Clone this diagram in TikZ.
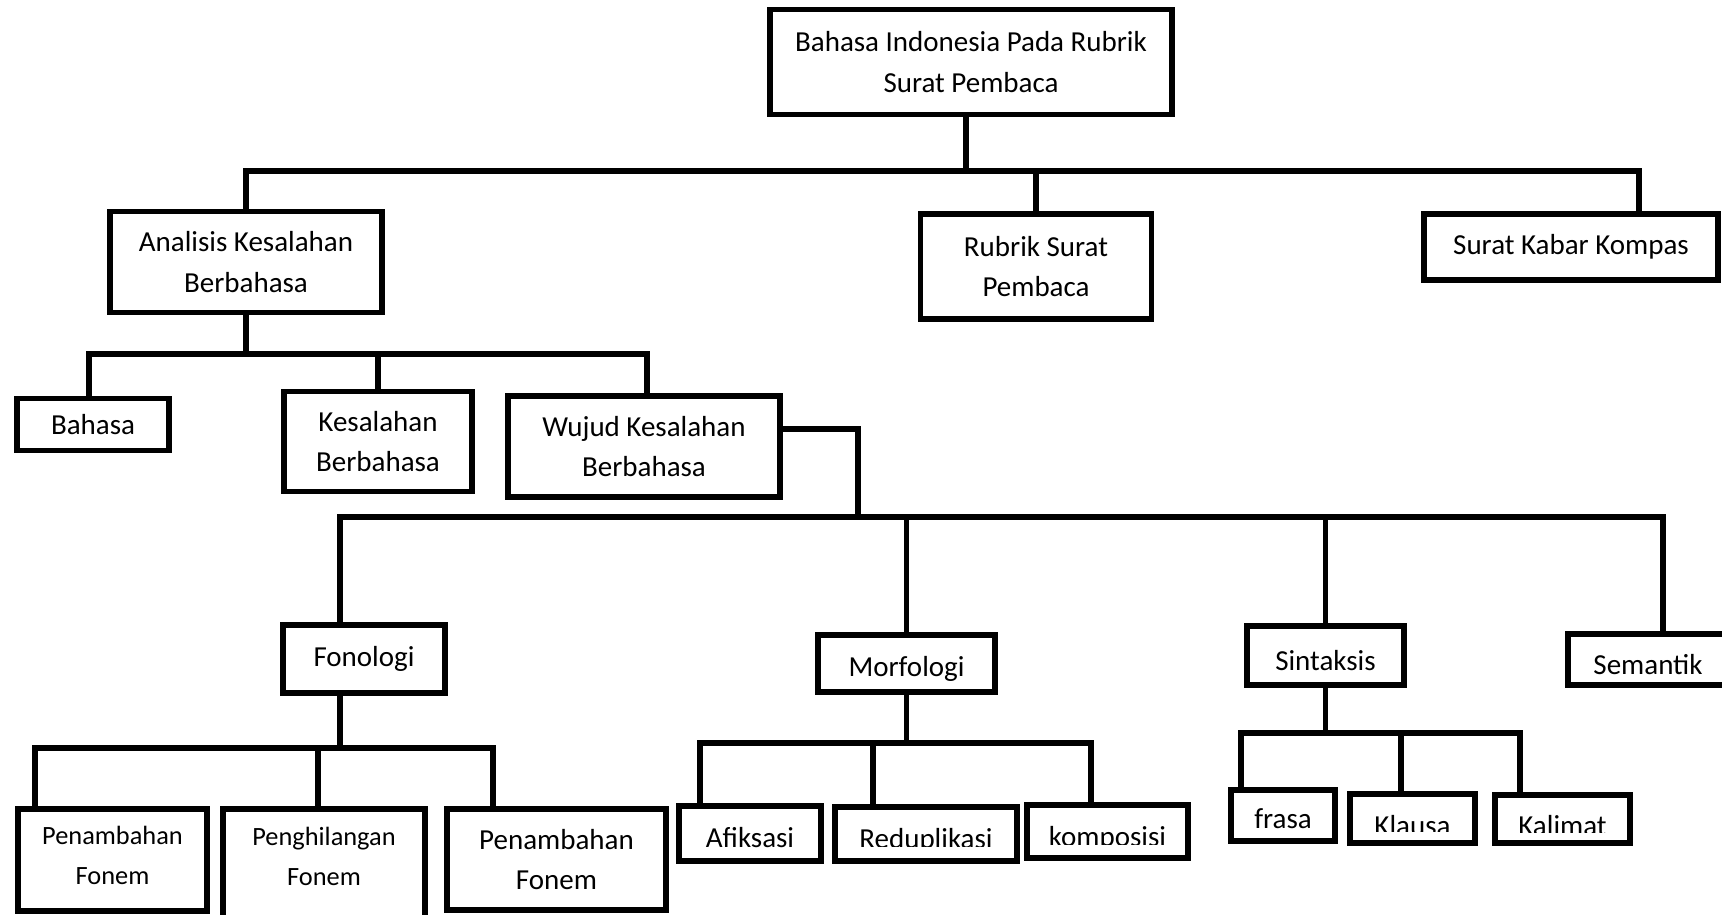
\documentclass[tikz,border=0pt]{standalone}
\usepackage{fontspec}
\setmainfont{Carlito}
\begin{document}
\begin{tikzpicture}[x=0.02cm, y=-0.02cm,
      box/.style={rectangle, draw, line width=3pt, outer sep=0pt, align=center,
                  font=\fontsize{16.5}{23}\selectfont},
      small/.style={font=\fontsize{15}{22.5}\selectfont},
      low/.style={text height=#1, text depth=0pt, inner ysep=2pt},
      link/.style={line width=3pt}
    ]
    \useasboundingbox (0,0) rectangle (1722,914);
    % level 1
    \node[box, minimum width=8.04cm, minimum height=2.10cm] (top) at (971,62) {Bahasa Indonesia Pada Rubrik\\Surat Pembaca};
    \node[box, minimum width=5.44cm, minimum height=2.02cm] (ana) at (246,262) {Analisis Kesalahan\\Berbahasa};
    \node[box, minimum width=4.62cm, minimum height=2.10cm] (rubrik) at (1036,266.5) {Rubrik Surat\\Pembaca};
    \node[box, minimum width=5.88cm, minimum height=1.32cm] (kompas) at (1571,247) {Surat Kabar Kompas};
    % level 2
    \node[box, minimum width=3.04cm, minimum height=1.04cm] (bahasa) at (93,424.5) {Bahasa};
    \node[box, minimum width=3.76cm, minimum height=2.00cm] (kesalahan) at (378,441.5) {Kesalahan\\Berbahasa};
    \node[box, minimum width=5.44cm, minimum height=2.02cm] (wujud) at (644,446.5) {Wujud Kesalahan\\Berbahasa};
    % level 3
    \node[box, minimum width=3.24cm, minimum height=1.36cm] (fonologi) at (364,659) {Fonologi};
    \node[box, low=15.3pt, minimum width=3.54cm, minimum height=1.14cm] (morfologi) at (906.5,663.5) {Morfologi};
    \node[box, low=16.5pt, minimum width=3.14cm, minimum height=1.18cm] (sintaksis) at (1325.5,655.5) {Sintaksis};
    \node[box, low=17.5pt, minimum width=3.20cm, minimum height=1.02cm] (semantik) at (1648,659.5) {Semantik};
    % level 4
    \node[box, small, text depth=5.5pt, minimum width=3.78cm, minimum height=2.04cm] (pen1) at (112.5,860) {Penambahan\\Fonem};
    \node[box, small, text depth=9pt, minimum width=4.04cm, minimum height=2.20cm] (peng) at (324,864) {Penghilangan\\Fonem};
    \node[box, minimum width=4.38cm, minimum height=2.02cm] (pen2) at (556.5,859.5) {Penambahan\\Fonem};
    \node[box, low=15.5pt, minimum width=2.84cm, minimum height=1.10cm] (afiksasi) at (750,833.5) {Afiksasi};
    \node[box, low=17pt, minimum width=3.64cm, minimum height=1.08cm] (redup) at (926,834) {Reduplikasi};
    \node[box, low=17.6pt, minimum width=3.22cm, minimum height=1.06cm] (kompo) at (1107.5,831.5) {komposisi};
    \node[box, low=15.3pt, minimum width=2.08cm, minimum height=1.02cm] (frasa) at (1283,815.5) {frasa};
    \node[box, low=18.8pt, minimum width=2.50cm, minimum height=0.98cm] (klausa) at (1412.5,818.5) {Klausa};
    \node[box, low=18.2pt, minimum width=2.70cm, minimum height=0.96cm] (kalimat) at (1562.5,819) {Kalimat};
    % text cut off at the bottom
    \foreach \n/\c in {redup/847, kompo/845, klausa/832, kalimat/833}{
      \path (0,\c) coordinate (c);
      \fill[white] (\n.south west) rectangle (\n.east |- c);
      \draw[link] (\n.south west) rectangle (\n.north east);
    }
    % bars
    \coordinate (b1r) at (1639,171);
    \coordinate (b2l) at (89,354);
    \coordinate (b2r) at (647,354);
    \coordinate (w1)  at (858,429);
    \coordinate (b3l) at (340,517);
    \coordinate (b3r) at (1663,517);
    \coordinate (b4l) at (35,748);
    \coordinate (b4r) at (493,748);
    \coordinate (b4m) at (318,748);
    \coordinate (b5l) at (700,743);
    \coordinate (b5m) at (873,743);
    \coordinate (b5r) at (1091,743);
    \coordinate (b6l) at (1241,733);
    \coordinate (b6m) at (1401,733);
    \coordinate (b6r) at (1520,733);
    % level 1 connectors
    \draw[link] (top.south -| 966,0) -- (966,171);
    \draw[link] (ana.north) |- (b1r) -- (b1r |- kompas.north);
    \draw[link] (rubrik.north) -- (rubrik.north |- b1r);
    % level 2 connectors
    \draw[link] (ana.south) -- (ana.south |- b2l);
    \draw[link] (b2l |- bahasa.north) |- (b2r) -- (b2r |- wujud.north);
    \draw[link] (kesalahan.north) -- (kesalahan.north |- b2l);
    % level 3 connectors
    \draw[link] (wujud.east |- w1) -| (w1 |- b3l);
    \draw[link] (b3l |- fonologi.north) |- (b3r) -- (b3r |- semantik.north);
    \draw[link] (morfologi.north) -- (morfologi.north |- b3l);
    \draw[link] (sintaksis.north) -- (sintaksis.north |- b3l);
    % level 4 connectors
    \draw[link] (b3l |- fonologi.south) -- (b3l |- b4l);
    \draw[link] (b4l |- pen1.north) |- (b4r) -- (b4r |- pen2.north);
    \draw[link] (b4m) -- (b4m |- peng.north);
    \draw[link] (morfologi.south) -- (morfologi.south |- b5l);
    \draw[link] (b5l |- afiksasi.north) |- (b5r) -- (b5r |- kompo.north);
    \draw[link] (b5m) -- (b5m |- redup.north);
    \draw[link] (sintaksis.south) -- (sintaksis.south |- b6l);
    \draw[link] (b6l |- frasa.north) |- (b6r) -- (b6r |- kalimat.north);
    \draw[link] (b6m) -- (b6m |- klausa.north);
\end{tikzpicture}
\end{document}
